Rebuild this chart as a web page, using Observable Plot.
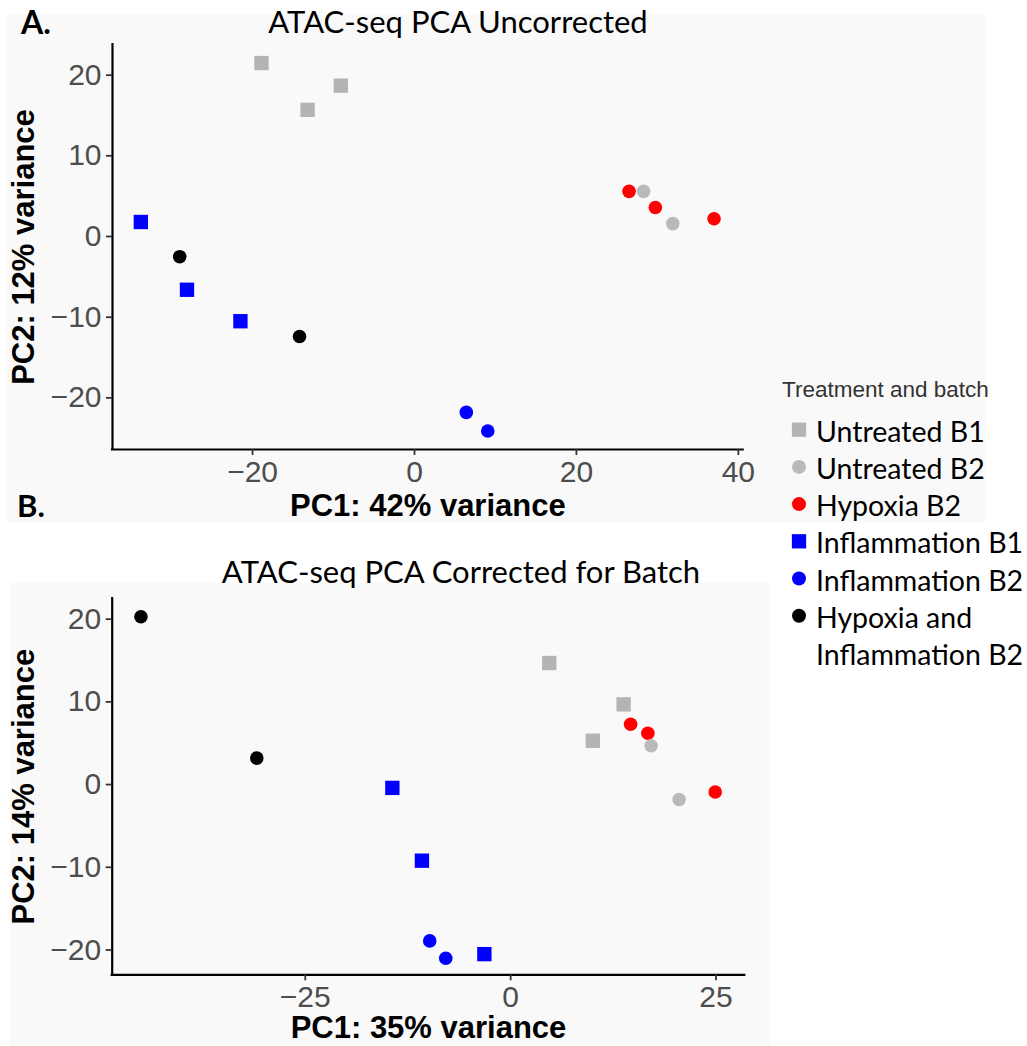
<!DOCTYPE html>
<html><head><meta charset="utf-8">
<script src="https://cdn.jsdelivr.net/npm/d3@7"></script>
<script src="https://cdn.jsdelivr.net/npm/@observablehq/plot@0.6"></script>
<style>
html,body{margin:0;padding:0;background:#fff;}
#root{position:relative;width:1027px;height:1046px;overflow:hidden;}
.abs{position:absolute;}
</style></head><body><div id="root"></div>
<script>
// ---- categories / legend ----
const groups = ["Untreated B1","Untreated B2","Hypoxia B2","Inflammation B1","Inflammation B2","Hypoxia and Inflammation B2"];
const groupColors = ["#b4b4b4","#b9b9b9","#ff0000","#0000ff","#0000ff","#000000"];
const groupShapes = ["square","circle","circle","square","circle","circle"];
const legendTitle = "Treatment and batch";
const legendLines = [["Untreated B1"],["Untreated B2"],["Hypoxia B2"],["Inflammation B1"],["Inflammation B2"],["Hypoxia and","Inflammation B2"]];

// ---- panel A: uncorrected ----
const titleA = "ATAC-seq PCA Uncorrected";
const letterA = "A.";
const xLabelA = "PC1: 42% variance";
const yLabelA = "PC2: 12% variance";
const groupA = ["Untreated B1","Untreated B1","Untreated B1","Hypoxia B2","Hypoxia B2","Hypoxia B2","Untreated B2","Untreated B2","Inflammation B1","Inflammation B1","Inflammation B1","Inflammation B2","Inflammation B2","Hypoxia and Inflammation B2","Hypoxia and Inflammation B2"];
const pc1A = [-18.9,-9.1,-13.2, 26.5,29.75,37.0, 28.3,31.9, -33.8,-28.1,-21.5, 6.4,9.05, -29.0,-14.2];
const pc2A = [21.5,18.7,15.7, 5.6,3.6,2.2, 5.6,1.6, 1.8,-6.6,-10.5, -21.8,-24.1, -2.5,-12.4];
const xTicksA = [-20,0,20,40];
const yTicksA = [-20,-10,0,10,20];
const xDomainA = [-37.3,40.6];
const yDomainA = [-26.4,23.8];

// ---- panel B: corrected for batch ----
const titleB = "ATAC-seq PCA Corrected for Batch";
const letterB = "B.";
const xLabelB = "PC1: 35% variance";
const yLabelB = "PC2: 14% variance";
const groupB = ["Untreated B1","Untreated B1","Untreated B1","Hypoxia B2","Hypoxia B2","Hypoxia B2","Untreated B2","Untreated B2","Inflammation B1","Inflammation B1","Inflammation B1","Inflammation B2","Inflammation B2","Hypoxia and Inflammation B2","Hypoxia and Inflammation B2"];
const pc1B = [4.7,13.75,10.0, 14.6,16.7,24.9, 17.1,20.5, -14.4,-10.8,-3.2, -9.85,-7.9, -45.0,-30.9];
const pc2B = [14.7,9.7,5.3, 7.3,6.2,-0.9, 4.7,-1.8, -0.4,-9.2,-20.5, -18.9,-21.0, 20.3,3.2];
const xTicksB = [-25,0,25];
const yTicksB = [-20,-10,0,10,20];
const xDomainB = [-48.5,28.5];
const yDomainB = [-23.0,22.5];

const root = document.getElementById("root");

// light panel backgrounds
function bg(l,t,w,h){const d=document.createElement("div");d.className="abs";Object.assign(d.style,{left:l+"px",top:t+"px",width:w+"px",height:h+"px",background:"#f9f9f9"});root.appendChild(d);}
bg(7,15,978,508);
bg(10,583,760,463);

function panel(o){
  const data = o.group.map((g,i)=>({group:g,pc1:o.pc1[i],pc2:o.pc2[i],shape:groupShapes[groups.indexOf(g)]}));
  const tickFont = {fontSize:30, fill:"#4d4d4d", stroke:"#333", strokeWidth:1.8, label:null};
  const p = Plot.plot({
    width:o.width, height:o.height,
    marginLeft:o.ml, marginRight:o.mr, marginTop:o.mt, marginBottom:o.mb,
    style:{fontFamily:"'Liberation Sans', Arial, sans-serif", background:"transparent", overflow:"visible"},
    x:{domain:o.xDomain},
    y:{domain:o.yDomain},
    color:{domain:groups, range:groupColors},
    marks:[
      Plot.ruleX([o.xDomain[0]],{stroke:"#000",strokeWidth:2.2,strokeLinecap:"square"}),
      Plot.ruleY([o.yDomain[0]],{stroke:"#000",strokeWidth:2.2,strokeLinecap:"square"}),
      Plot.axisX(o.xTicks,{...tickFont, tickSize:6, tickPadding:5}),
      Plot.axisY(o.yTicks,{...tickFont, tickSize:6, tickPadding:5}),
      Plot.dot(data.filter(d=>d.shape==="square"),{x:"pc1",y:"pc2",fill:"group",symbol:"square",r:8.1}),
      Plot.dot(data.filter(d=>d.shape==="circle"),{x:"pc1",y:"pc2",fill:"group",r:6.8}),
      Plot.text([o.xLabel],{text:d=>d,frameAnchor:"bottom",textAnchor:"middle",lineAnchor:"middle",dy:o.xLabelDy,fontSize:31,fontWeight:"bold",fill:"#000"}),
      Plot.text([o.yLabel],{text:d=>d,frameAnchor:"left",textAnchor:"middle",lineAnchor:"middle",rotate:-90,dx:-88.5,fontSize:31,fontWeight:"bold",fill:"#000"})
    ]
  });
  p.classList.add("abs");
  p.style.left=o.left+"px"; p.style.top=o.top+"px";
  root.appendChild(p);
}

panel({group:groupA,pc1:pc1A,pc2:pc2A,xTicks:xTicksA,yTicks:yTicksA,xDomain:xDomainA,yDomain:yDomainA,
  xLabel:xLabelA,yLabel:yLabelA,width:760,height:530,ml:112,mr:17.3,mt:44,mb:81,left:0,top:0,xLabelDy:57});
panel({group:groupB,pc1:pc1B,pc2:pc2B,xTicks:xTicksB,yTicks:yTicksB,xDomain:xDomainB,yDomain:yDomainB,
  xLabel:xLabelB,yLabel:yLabelB,width:760,height:506,ml:111.7,mr:15.7,mt:58,mb:71.7,left:0,top:540,xLabelDy:53.5});

// overlay: titles, panel letters, legend
const ov = d3.select("#root").append("svg").attr("class","abs")
  .attr("width",1027).attr("height",1046).style("left","0px").style("top","0px");
const titleFont = "Lato, 'Open Sans', sans-serif";
ov.append("text").attr("x",458).attr("y",33).attr("text-anchor","middle")
  .style("font-family",titleFont).style("font-size","31px").attr("fill","#000").text(titleA);
ov.append("text").attr("x",461).attr("y",583).attr("text-anchor","middle")
  .style("font-family",titleFont).style("font-size","31px").attr("fill","#000").text(titleB);
ov.append("text").attr("x",21).attr("y",34)
  .style("font-family",titleFont).style("font-size","32px").style("font-weight","bold").attr("fill","#000").text(letterA);
ov.append("text").attr("x",17).attr("y",517)
  .style("font-family",titleFont).style("font-size","31px").style("font-weight","bold").attr("fill","#000").text(letterB);

const lg = ov.append("g");
lg.append("text").attr("x",782).attr("y",397)
  .style("font-family","'Liberation Sans', Arial, sans-serif").style("font-size","22.5px").attr("fill","#333").text(legendTitle);
groups.forEach((g,i)=>{
  const base = 441.7 + i*37.2;
  const shape = groupShapes[i];
  const sym = shape==="square" ? d3.symbol(d3.symbolSquare, 14.3*14.3) : d3.symbol(d3.symbolCircle, Math.PI*7*7);
  lg.append("path").attr("d",sym()).attr("transform",`translate(799,${base-12})`).attr("fill",groupColors[i]);
  legendLines[i].forEach((line,j)=>{
    lg.append("text").attr("x",816).attr("y",base + j*37.2)
      .style("font-family",titleFont).style("font-size","28.5px").attr("fill","#000").text(line);
  });
});
</script>
</body></html>
